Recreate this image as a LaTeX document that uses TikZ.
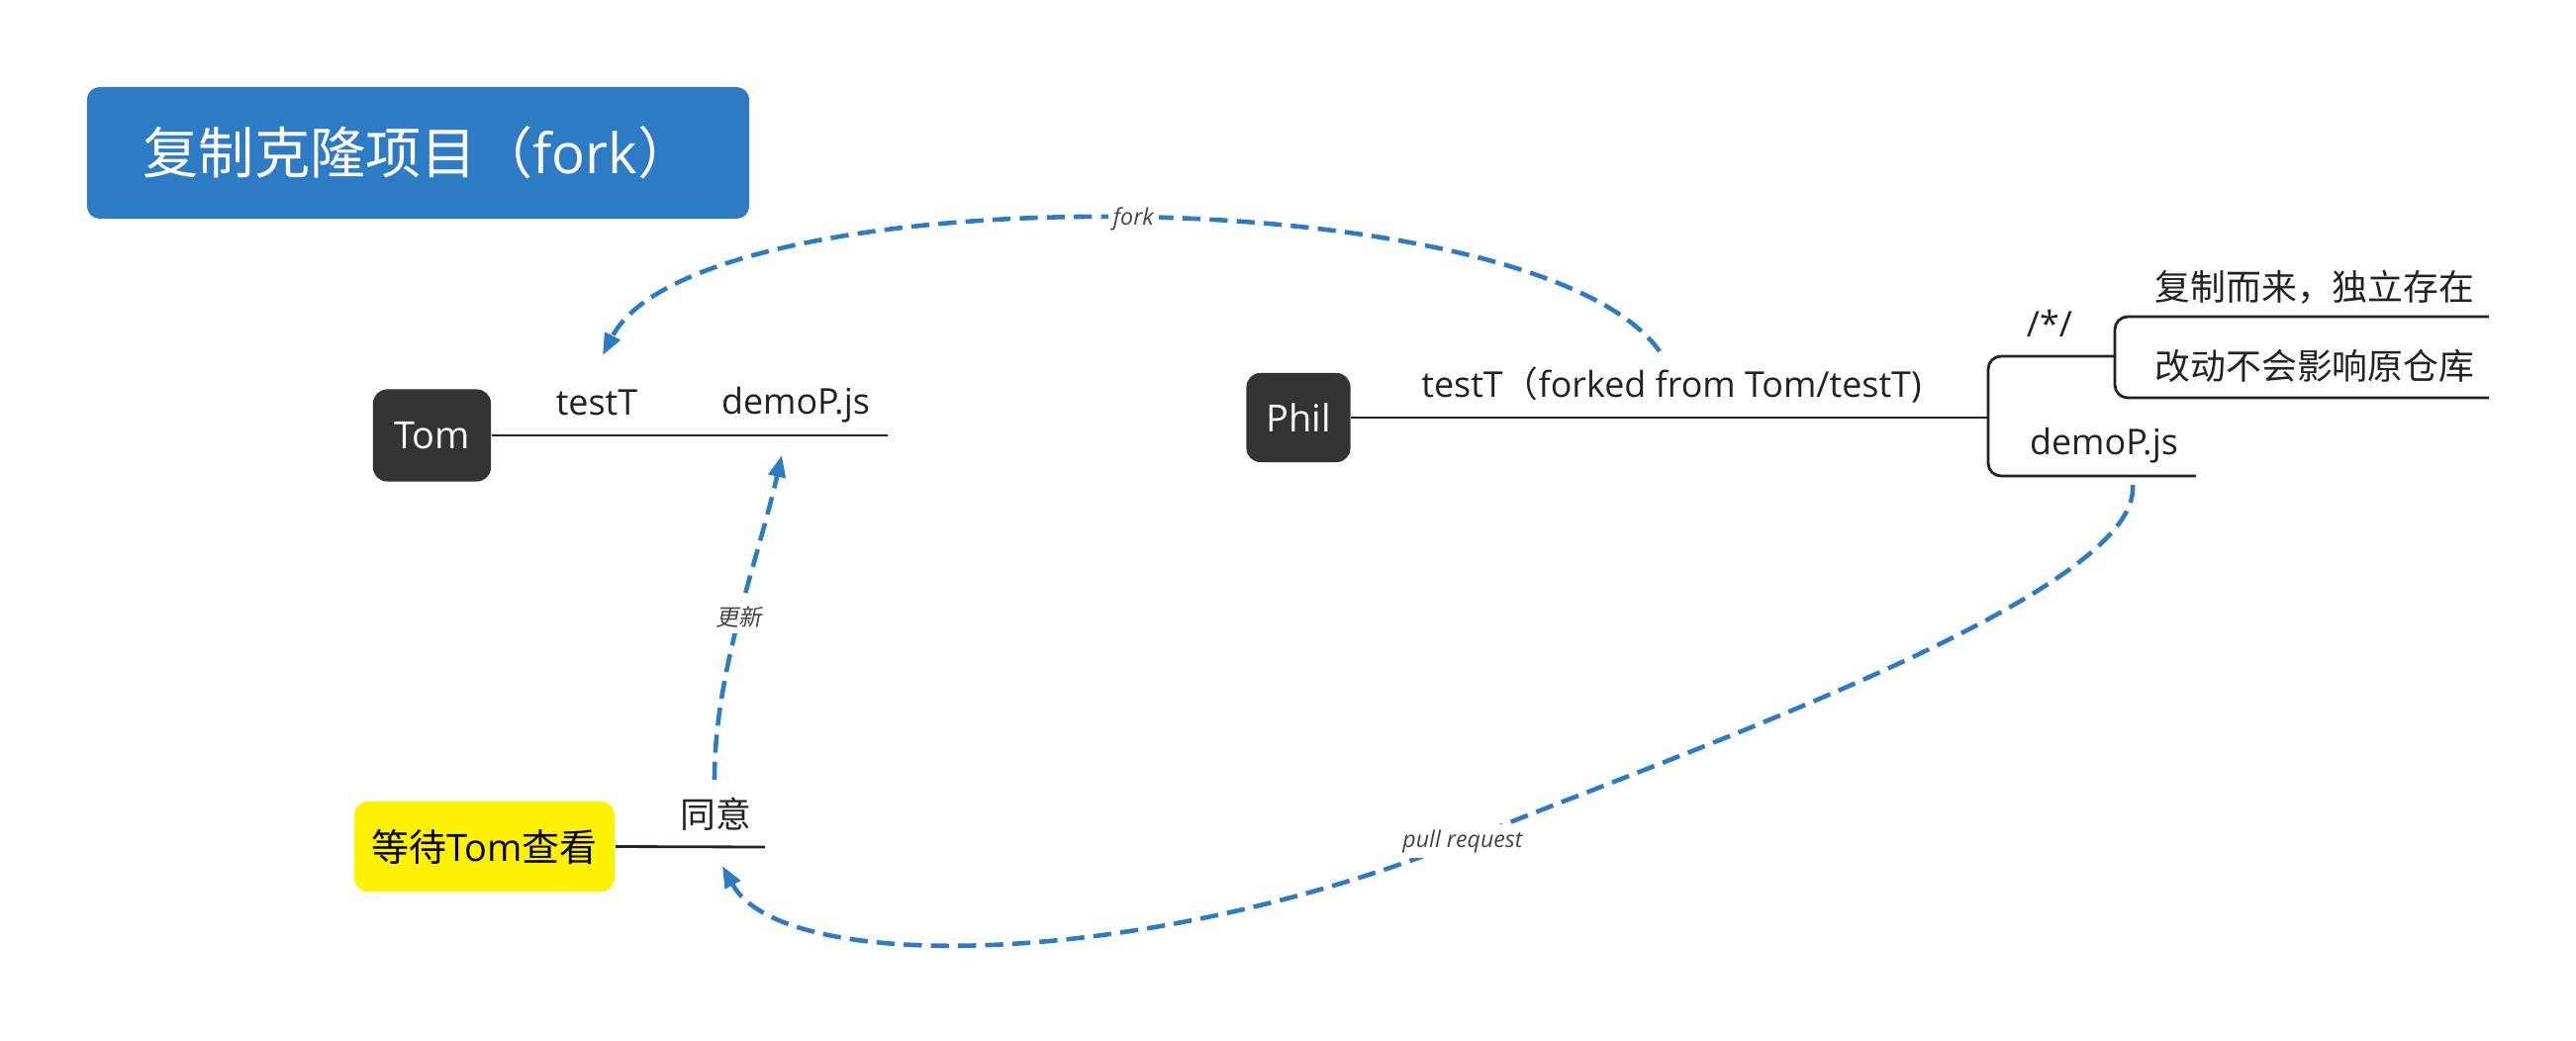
\documentclass[tikz,border=0pt]{standalone}
\usepackage{fontspec}
\setmainfont{Open Sans}
\newfontfamily\cjk{Noto Sans CJK SC}
\newfontfamily\cjkit{Noto Sans CJK SC}[FakeSlant=0.2]
\usetikzlibrary{arrows.meta,calc}
\definecolor{titleblue}{HTML}{2C7BC4}
\definecolor{darkbox}{HTML}{333333}
\definecolor{txt}{HTML}{222222}
\definecolor{lbl}{HTML}{444444}
\definecolor{linkblue}{HTML}{2C7BC4}
\begin{document}
\begin{tikzpicture}[x=0.01cm,y=-0.01cm,
  boxlbl/.style={rectangle, rounded corners=0.14cm, inner sep=0pt, text=white, font=\fontsize{10.8}{13}\selectfont},
  topic/.style={inner sep=0pt, text=txt, font=\fontsize{10.2}{12}\selectfont},
  branch/.style={draw=txt, line width=0.8pt},
  link/.style={draw=linkblue, line width=1.3pt, dash pattern=on 5.2pt off 2.6pt, -{Triangle[length=0.22cm,width=0.17cm]}},
  linklbl/.style={fill=white, inner sep=1.5pt, text=lbl, font=\fontsize{6.6}{8}\selectfont\itshape},
]
\useasboundingbox (0,0) rectangle (2603,1051);

% title
\node[rectangle, rounded corners=0.13cm, fill=titleblue, minimum width=6.69cm, minimum height=1.33cm, inner sep=0pt, text=white, font=\fontsize{16}{19}\selectfont] (title) at (422.5,154.5) {{\cjk 复制克隆项目（}fork{\cjk ）}};

% Tom
\node[boxlbl, fill=darkbox, minimum width=1.19cm, minimum height=0.93cm] (tom) at (436.5,440) {Tom};
\coordinate (tomend) at (897,440);
\draw[branch] (tom.east) -- (tomend);
\node[topic] (testT) at (603,407) {testT};
\node[topic] (tomjs) at (804,409) {demoP.js};

% Phil
\node[boxlbl, fill=darkbox, minimum width=1.05cm, minimum height=0.90cm] (phil) at (1312,422) {Phil};
\coordinate (fork1) at (2009,422);
\draw[branch] (phil.east) -- (fork1);
\node[topic] (philtxt) at (1689,389) {testT{\cjk （}forked from Tom/testT)};
\coordinate (b1) at (2137,360);
\coordinate (b2) at (2219,481);
\draw[branch, rounded corners=0.13cm] (b1) -- (2009,360) -- (2009,481) -- (b2);
\coordinate (c1) at (2515,320);
\coordinate (c2) at (2515,402);
\draw[branch, rounded corners=0.13cm] (c1) -- (2137,320) -- (2137,402) -- (c2);
\node[topic] (star) at (2071,327) {/*/};
\node[topic, font=\fontsize{10.2}{12}\selectfont\cjk] (copy) at (2339,290) {复制而来，独立存在};
\node[topic, font=\fontsize{10.2}{12}\selectfont\cjk] (change) at (2339,370) {改动不会影响原仓库};
\node[topic] (philjs) at (2126,450) {demoP.js};

% waiting
\node[boxlbl, fill=yellow, text=black, minimum width=2.63cm, minimum height=0.91cm] (wait) at (489.5,855.5) {{\cjk 等待}Tom{\cjk 查看}};
\coordinate (waitend) at (773,856);
\draw[branch] (wait.east) -- (waitend);
\node[topic, font=\fontsize{10.2}{12}\selectfont\cjk] (agree) at (723,823) {同意};

% links
\draw[link] ($(philtxt.center)+(-12,-34)$) .. controls +(-127,-178) and +(95,-184) .. node[linklbl, pos=0.49] {fork} ($(testT.center)+(6,-48)$);

\draw[link] ($(agree.center)+(-1,-35)$) .. controls +(0,-110) and +(-25,110) .. node[linklbl, pos=0.5] {{\cjkit 更新}} ($(tomjs.center)+(-14,51)$);

\draw[link] ($(philjs.center)+(29,40)$) .. controls +(10,110) and (1700,760) .. (1478,850) node[linklbl] {pull request} .. controls (1150,980) and +(60,110) .. ($(agree.center)+(7,52)$);

\end{tikzpicture}
\end{document}
